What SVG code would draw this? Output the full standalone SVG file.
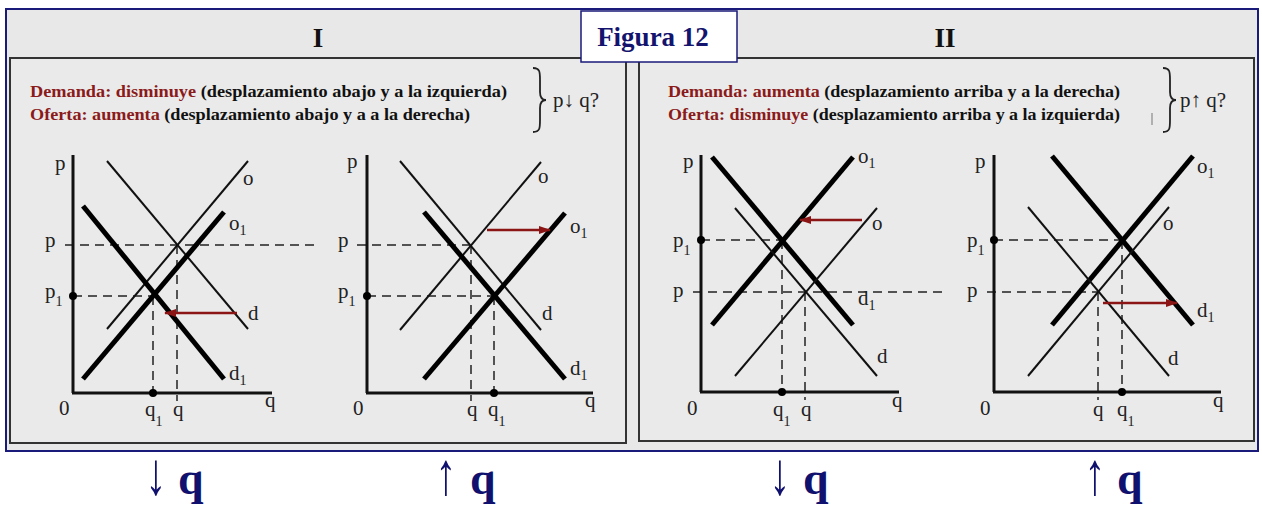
<svg xmlns="http://www.w3.org/2000/svg" width="1262" height="507" viewBox="0 0 1262 507">
<style>
.thin{stroke:#111;stroke-width:2;fill:none}
.thick{stroke:#000;stroke-width:5;fill:none}
.axis{stroke:#111;stroke-width:3;fill:none}
.dash{stroke:#222;stroke-width:1.5;stroke-dasharray:9 6;fill:none}
.shift{stroke:#8b1414;stroke-width:2.5;fill:none;marker-end:url(#ah)}
.dot{fill:#000}
.lbl{font-family:"Liberation Serif",serif;font-size:21px;fill:#222}
.sub{font-size:14px}
.hd{font-family:"Liberation Serif",serif;font-weight:bold;fill:#111}
.txt{font-family:"Liberation Serif",serif;font-size:17.5px;font-weight:bold;fill:#111}
.red{fill:#8b1a1a}
.bq{font-family:"Liberation Serif",serif;font-size:46px;font-weight:bold;fill:#10106e}
.ar{font-family:"Liberation Serif",serif;font-size:60px;fill:#10106e}
</style>
<defs>
<marker id="ah" viewBox="0 0 12 8" refX="11" refY="4" markerWidth="12" markerHeight="8" markerUnits="userSpaceOnUse" orient="auto">
<path d="M0,0 L12,4 L0,8 Z" fill="#8b1414"/>
</marker>
</defs>
<rect width="1262" height="507" fill="#fff"/>
<g id="frame">
<rect x="6" y="9" width="1252" height="442" fill="#e8e8e8" stroke="#1a1a7a" stroke-width="2"/>
<rect x="10" y="58" width="616" height="385" fill="#eaeaea" stroke="#333" stroke-width="2"/>
<rect x="639" y="58" width="615" height="383" fill="#eaeaea" stroke="#333" stroke-width="2"/>
<text class="hd" x="318" y="47" font-size="27" text-anchor="middle">I</text>
<text class="hd" x="945" y="47" font-size="27" text-anchor="middle">II</text>
</g>
<g id="title">
<rect x="581" y="11" width="156" height="51" fill="#fff" stroke="#1a1a7a" stroke-width="1.5"/>
<text x="653" y="46" text-anchor="middle" font-family="'Liberation Serif',serif" font-size="27" font-weight="bold" fill="#14146e">Figura 12</text>
</g>
<g id="caption-I">
<text class="txt" x="30" y="97" textLength="477" lengthAdjust="spacingAndGlyphs"><tspan class="red">Demanda: disminuye</tspan> (desplazamiento abajo y a la izquierda)</text>
<text class="txt" x="30" y="120" textLength="440" lengthAdjust="spacingAndGlyphs"><tspan class="red">Oferta: aumenta</tspan> (desplazamiento abajo y a a la derecha)</text>
<path d="M533,68 C540,68 540,72 540,80 L540,92 C540,97 542,100 546,100 C542,100 540,103 540,108 L540,120 C540,128 540,132 533,132" fill="none" stroke="#222" stroke-width="1.8"/>
<text class="lbl" x="553" y="107" font-size="20">p<tspan font-weight="bold">↓</tspan> q?</text>
</g>
<g id="caption-II">
<text class="txt" x="668" y="97" textLength="452" lengthAdjust="spacingAndGlyphs"><tspan class="red">Demanda: aumenta</tspan> (desplazamiento arriba y a la derecha)</text>
<text class="txt" x="668" y="120" textLength="452" lengthAdjust="spacingAndGlyphs"><tspan class="red">Oferta: disminuye</tspan> (desplazamiento arriba y a la izquierda)</text>
<line x1="1152" y1="113" x2="1152" y2="125" stroke="#777" stroke-width="1"/>
<path d="M1163,68 C1170,68 1170,72 1170,80 L1170,92 C1170,97 1172,100 1176,100 C1172,100 1170,103 1170,108 L1170,120 C1170,128 1170,132 1163,132" fill="none" stroke="#222" stroke-width="1.8"/>
<text class="lbl" x="1180" y="107" font-size="20">p<tspan font-weight="bold">↑</tspan> q?</text>
</g>
<g id="chart1">
<line class="dash" x1="65" y1="245" x2="320" y2="245"/>
<line class="dash" x1="73" y1="296" x2="153" y2="296"/>
<line class="dash" x1="153" y1="296" x2="153" y2="393"/>
<line class="dash" x1="177" y1="245" x2="177" y2="401"/>
<line class="axis" x1="73" y1="155" x2="73" y2="393"/>
<line class="axis" x1="72" y1="393" x2="272" y2="393"/>
<line class="thin" x1="107" y1="329" x2="248" y2="161"/>
<line class="thin" x1="107" y1="161" x2="248" y2="329"/>
<line class="thick" x1="83" y1="379" x2="224" y2="212"/>
<line class="thick" x1="83" y1="206" x2="224" y2="379"/>
<line class="shift" x1="237" y1="313" x2="165" y2="313"/>
<circle class="dot" cx="73" cy="296" r="4"/>
<circle class="dot" cx="153" cy="393" r="4"/>
<text class="lbl" x="55" y="170">p</text>
<text class="lbl" x="45" y="247">p</text>
<text class="lbl" x="45" y="298">p<tspan class="sub" dy="8">1</tspan></text>
<text class="lbl" x="59" y="415">0</text>
<text class="lbl" x="145" y="416">q<tspan class="sub" dy="10">1</tspan></text>
<text class="lbl" x="173" y="416">q</text>
<text class="lbl" x="265" y="407">q</text>
<text class="lbl" x="243" y="185">o</text>
<text class="lbl" x="229" y="230">o<tspan class="sub" dy="5">1</tspan></text>
<text class="lbl" x="248" y="320">d</text>
<text class="lbl" x="229" y="380">d<tspan class="sub" dy="5">1</tspan></text>
</g>
<g id="chart2">
<line class="dash" x1="357" y1="245" x2="470" y2="245"/>
<line class="dash" x1="367" y1="296" x2="494" y2="296"/>
<line class="dash" x1="471" y1="245" x2="471" y2="401"/>
<line class="dash" x1="494" y1="296" x2="494" y2="393"/>
<line class="axis" x1="367" y1="155" x2="367" y2="393"/>
<line class="axis" x1="366" y1="393" x2="593" y2="393"/>
<line class="thin" x1="400" y1="330" x2="541" y2="162"/>
<line class="thin" x1="400" y1="161" x2="541" y2="330"/>
<line class="thick" x1="424" y1="379" x2="565" y2="213"/>
<line class="thick" x1="424" y1="212" x2="565" y2="379"/>
<line class="shift" x1="487" y1="230" x2="550" y2="230"/>
<circle class="dot" cx="367" cy="296" r="4"/>
<circle class="dot" cx="494" cy="393" r="4"/>
<text class="lbl" x="347" y="168">p</text>
<text class="lbl" x="338" y="247">p</text>
<text class="lbl" x="338" y="298">p<tspan class="sub" dy="8">1</tspan></text>
<text class="lbl" x="353" y="415">0</text>
<text class="lbl" x="467" y="416">q</text>
<text class="lbl" x="488" y="416">q<tspan class="sub" dy="10">1</tspan></text>
<text class="lbl" x="585" y="407">q</text>
<text class="lbl" x="538" y="183">o</text>
<text class="lbl" x="570" y="233">o<tspan class="sub" dy="5">1</tspan></text>
<text class="lbl" x="542" y="320">d</text>
<text class="lbl" x="570" y="375">d<tspan class="sub" dy="5">1</tspan></text>
</g>
<g id="chart3">
<line class="dash" x1="693" y1="292" x2="945" y2="292"/>
<line class="dash" x1="701" y1="240" x2="782" y2="240"/>
<line class="dash" x1="782" y1="240" x2="782" y2="392"/>
<line class="dash" x1="805" y1="292" x2="805" y2="400"/>
<line class="axis" x1="701" y1="155" x2="701" y2="392"/>
<line class="axis" x1="700" y1="392" x2="899" y2="392"/>
<line class="thick" x1="712" y1="325" x2="853" y2="157"/>
<line class="thick" x1="712" y1="157" x2="853" y2="325"/>
<line class="thin" x1="735" y1="376" x2="877" y2="208"/>
<line class="thin" x1="735" y1="208" x2="877" y2="376"/>
<line class="shift" x1="862" y1="220" x2="800" y2="220"/>
<circle class="dot" cx="701" cy="240" r="4"/>
<circle class="dot" cx="782" cy="392" r="4"/>
<text class="lbl" x="683" y="168">p</text>
<text class="lbl" x="673" y="247">p<tspan class="sub" dy="8">1</tspan></text>
<text class="lbl" x="673" y="297">p</text>
<text class="lbl" x="687" y="415">0</text>
<text class="lbl" x="773" y="416">q<tspan class="sub" dy="10">1</tspan></text>
<text class="lbl" x="801" y="416">q</text>
<text class="lbl" x="892" y="407">q</text>
<text class="lbl" x="858" y="163">o<tspan class="sub" dy="5">1</tspan></text>
<text class="lbl" x="872" y="230">o</text>
<text class="lbl" x="858" y="305">d<tspan class="sub" dy="5">1</tspan></text>
<text class="lbl" x="877" y="363">d</text>
</g>
<g id="chart4">
<line class="dash" x1="987" y1="292" x2="1098" y2="292"/>
<line class="dash" x1="994" y1="240" x2="1122" y2="240"/>
<line class="dash" x1="1098" y1="292" x2="1098" y2="400"/>
<line class="dash" x1="1122" y1="240" x2="1122" y2="392"/>
<line class="axis" x1="994" y1="155" x2="994" y2="392"/>
<line class="axis" x1="993" y1="392" x2="1221" y2="392"/>
<line class="thick" x1="1052" y1="156" x2="1193" y2="325"/>
<line class="thick" x1="1052" y1="325" x2="1193" y2="156"/>
<line class="thin" x1="1028" y1="207" x2="1169" y2="376"/>
<line class="thin" x1="1028" y1="376" x2="1169" y2="207"/>
<line class="shift" x1="1103" y1="303" x2="1177" y2="303"/>
<circle class="dot" cx="994" cy="240" r="4"/>
<circle class="dot" cx="1122" cy="392" r="4"/>
<text class="lbl" x="975" y="168">p</text>
<text class="lbl" x="967" y="247">p<tspan class="sub" dy="8">1</tspan></text>
<text class="lbl" x="967" y="297">p</text>
<text class="lbl" x="980" y="415">0</text>
<text class="lbl" x="1093" y="416">q</text>
<text class="lbl" x="1117" y="416">q<tspan class="sub" dy="10">1</tspan></text>
<text class="lbl" x="1213" y="407">q</text>
<text class="lbl" x="1197" y="173">o<tspan class="sub" dy="5">1</tspan></text>
<text class="lbl" x="1163" y="230">o</text>
<text class="lbl" x="1197" y="317">d<tspan class="sub" dy="5">1</tspan></text>
<text class="lbl" x="1168" y="365">d</text>
</g>
<g id="results">
<text class="ar" text-anchor="middle" transform="translate(156,494) scale(0.7,1)">↓</text>
<text class="bq" x="178" y="494">q</text>
<text class="ar" text-anchor="middle" transform="translate(446,494) scale(0.7,1)">↑</text>
<text class="bq" x="470" y="494">q</text>
<text class="ar" text-anchor="middle" transform="translate(780,494) scale(0.7,1)">↓</text>
<text class="bq" x="803" y="494">q</text>
<text class="ar" text-anchor="middle" transform="translate(1095,494) scale(0.7,1)">↑</text>
<text class="bq" x="1117" y="494">q</text>
</g>
</svg>
